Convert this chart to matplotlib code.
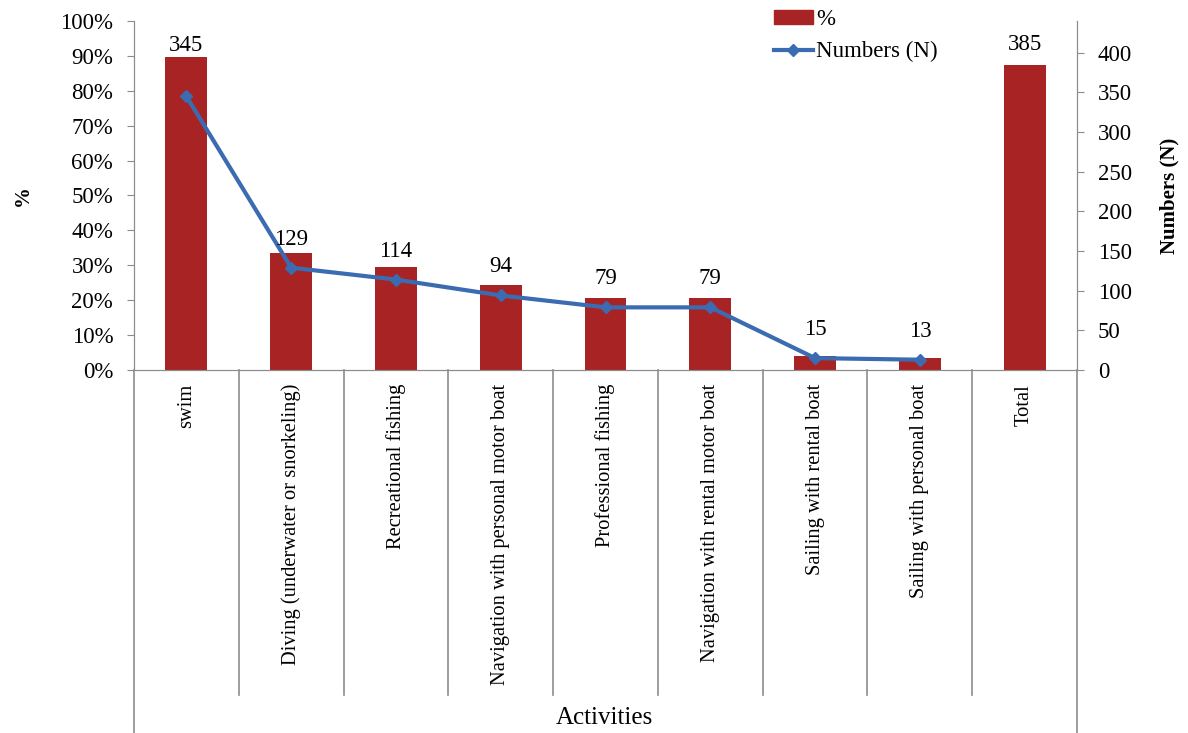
import numpy as np
import matplotlib.pyplot as plt
import matplotlib.transforms as mtransforms
from matplotlib.lines import Line2D
from matplotlib.patches import Patch

activities = ["swim", "Diving (underwater or snorkeling)", "Recreational fishing",
              "Navigation with personal motor boat", "Professional fishing",
              "Navigation with rental motor boat", "Sailing with rental boat",
              "Sailing with personal boat", "Total"]
numbers = [345, 129, 114, 94, 79, 79, 15, 13]
pct = [89.6, 33.5, 29.6, 24.4, 20.5, 20.5, 3.9, 3.4]
total = 385

plt.rcParams['font.family'] = ['Liberation Serif', 'DejaVu Serif']
red = '#A82424'
blue = '#3B6BB0'
grey = '#8C8C8C'

fig = plt.figure(figsize=(11.88, 7.33), dpi=100)
ax = fig.add_axes([0.1128, 0.4952, 0.7938, 0.4762])
ax2 = ax.twinx()

x = np.arange(len(activities))
ax.bar(x[:-1], pct, width=0.4, color=red, zorder=2)
ax2.bar(x[-1], total, width=0.4, color=red, zorder=2)
ax2.plot(x[:-1], numbers, color=blue, lw=3, marker='D', ms=6, zorder=3)

ax.set_xlim(-0.5, len(activities) - 0.5)
ax.set_ylim(0, 100)
ax2.set_ylim(0, 440)
ax.set_yticks(np.arange(0, 101, 10))
ax.set_yticklabels([f"{v}%" for v in range(0, 101, 10)])
ax2.set_yticks(np.arange(0, 401, 50))

for a in (ax, ax2):
    for s in a.spines.values():
        s.set_color(grey)
    a.spines['top'].set_visible(False)
    a.tick_params(axis='y', colors=grey, labelcolor='black', labelsize=16.5,
                  length=5, direction='out', pad=10)
ax.tick_params(axis='x', length=0)
ax.set_xticks(x)
ax.set_xticklabels(activities, rotation=90, va='top', fontsize=14.8)
ax.tick_params(axis='x', pad=10)
ax2.tick_params(axis='x', length=0)

# extend the side spines and category separators down below the plot
trans = mtransforms.blended_transform_factory(ax.transData, ax.transAxes)
for xd in np.arange(0.5, len(activities) - 1, 1.0):
    ax.add_line(Line2D([xd, xd], [0, -0.93], transform=trans, color=grey,
                       lw=1.2, clip_on=False))
for xa in (0, 1):
    ax.add_line(Line2D([xa, xa], [0, -1.12], transform=ax.transAxes, color=grey,
                       lw=1.2, clip_on=False))

ax.set_ylabel('%', fontsize=15, fontweight='bold', labelpad=20)
ax2.set_ylabel('Numbers (N)', fontsize=15, fontweight='bold', labelpad=20)
fig.text(0.509, 0.021, 'Activities', ha='center', va='center', fontsize=18)

# value labels
ax2.annotate(str(numbers[0]), (x[0], pct[0] * 4.4), xytext=(0, 1),
             textcoords='offset points', ha='center', va='bottom', fontsize=16.5)
for xi, n in zip(x[1:-1], numbers[1:]):
    ax2.annotate(str(n), (xi, n), xytext=(0, 13), textcoords='offset points',
                 ha='center', va='bottom', fontsize=16.5)
ax2.annotate(str(total), (x[-1], total), xytext=(0, 7), textcoords='offset points',
             ha='center', va='bottom', fontsize=16.5)

handles = [Patch(color=red, label='%'),
           Line2D([], [], color=blue, lw=3, marker='D', ms=6, label='Numbers (N)')]
fig.legend(handles=handles, loc='upper left', bbox_to_anchor=(0.634, 1.016),
           frameon=False, fontsize=16.5, handlelength=1.7, handleheight=0.6,
           handletextpad=0.15, labelspacing=0.5)

fig.savefig('out.png', dpi=100)
